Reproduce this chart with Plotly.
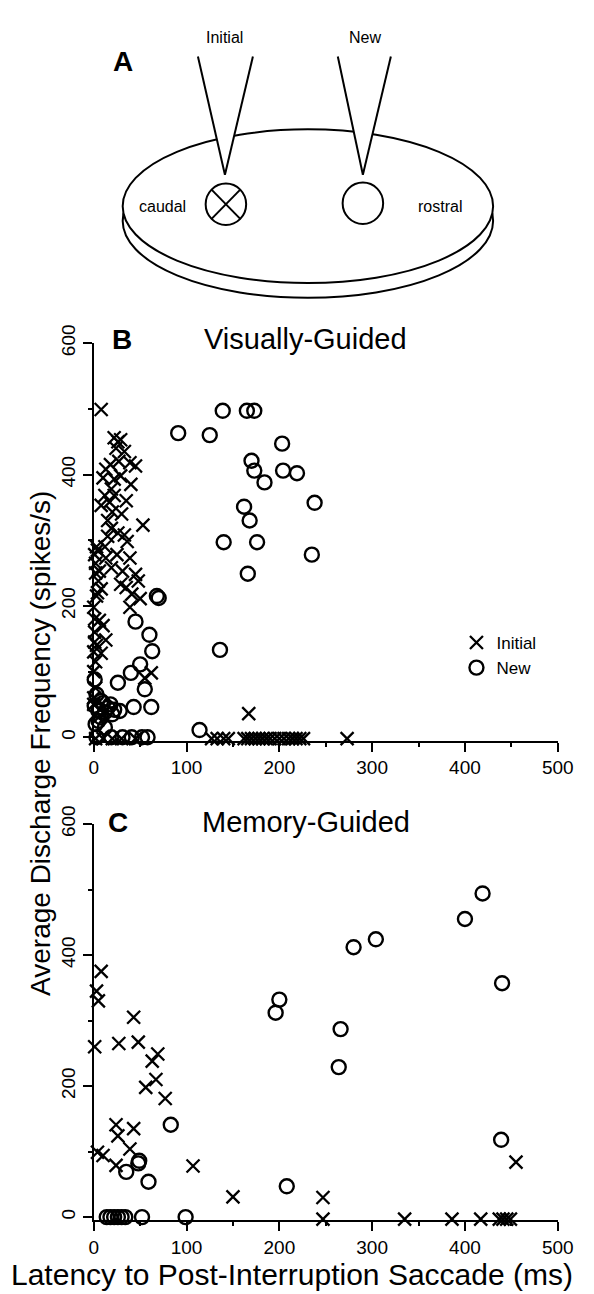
import plotly.graph_objects as go

W, H = 594, 1294
FONT = "Liberation Sans, Arial, Helvetica, sans-serif"

# ---------------- data ----------------
# Panel B (visually-guided): Initial (x) and New (o)
b_init_x = [8, 22, 26, 29, 24, 39, 45, 13, 22, 29, 19, 12, 22, 8, 17, 20, 53, 19, 26, 33, 36, 15,
            1, 13, 25, 39, 6, 19, 31, 45, 5, 29, 48, 8, 41, 50, 39, 0, 6, 10, 13, 8, 1, 0, 62, 55,
            0, 2, 0, 4, 2, 3, 1, 167,
            3, 2, 4, 1, 3, 2, 0, 5, 15, 30, 35, 40, 27, 33, 18, 10, 12, 35,
            2, 10, 20, 30, 45,
            127, 133, 140, 145, 162, 166, 170, 174, 178, 182, 186, 190, 195, 200, 205, 210, 214,
            218, 222, 226, 273]
b_init_y = [499, 456, 450, 453, 440, 418, 413, 408, 393, 398, 378, 368, 368, 353, 358, 343, 323, 318,
            311, 308, 298, 306, 278, 273, 278, 273, 253, 258, 253, 248, 238, 233, 238, 226, 218, 211,
            198, 198, 178, 170, 148, 128, 160, 130, 98, 90, 100, 75, 50, 285, 265, 215, 145, 36,
            290, 250, 220, 180, 140, 115, 60, 30, 330, 340, 360, 385, 420, 435, 415, 395, 290, 228,
            -2, -2, -2, -2, -2,
            -2, -2, -2, -2, -2, -2, -2, -2, -2, -2, -2, -2, -2, -2, -2, -2, -2,
            -2, -2, -2, -2]
b_new_x = [139, 165, 173, 91, 125, 203, 170, 173, 184, 204, 219, 238, 162, 168, 140, 176, 235, 166,
           136, 114,
           70, 68, 45, 60, 63, 50, 40, 55, 26, 1, 43, 62, 1, 5, 10, 15, 8, 20, 5, 12, 28, 3, 8, 18,
           22, 2, 12,
           3, 19, 31, 41, 52, 58]
b_new_y = [497, 497, 497, 463, 460, 447, 421, 406, 388, 406, 402, 357, 351, 330, 297, 297, 278, 249,
           133, 11,
           212, 215, 176, 156, 131, 111, 98, 73, 83, 88, 46, 46, 48, 40, 52, 45, 30, 35, 25, 38, 40,
           65, 55, 50, 42, 20, 15,
           0, 0, 0, 0, 0, 0]

# Panel C (memory-guided)
c_init_x = [8, 3, 5, 43, 1, 27, 48, 69, 63, 67, 56, 77, 24, 43, 26, 39, 4, 10, 24, 107, 150, 247, 455,
            247, 335, 386, 417, 437, 441, 445, 449]
c_init_y = [375, 345, 330, 305, 260, 265, 267, 249, 238, 210, 198, 181, 141, 135, 124, 104, 99, 94, 79,
            78, 31, 30, 84, -3, -3, -3, -3, -3, -3, -3, -3]
c_new_x = [419, 400, 304, 280, 440, 200, 196, 266, 264, 83, 439, 49, 48, 35, 59, 208,
           14, 18, 22, 26, 30, 34, 52, 99]
c_new_y = [494, 455, 424, 412, 357, 332, 312, 287, 229, 141, 118, 86, 82, 69, 54, 47,
           0, 0, 0, 0, 0, 0, 0, 0]

x_ticks = [0, 100, 200, 300, 400, 500]
y_ticks = [0, 200, 400, 600]


def px(x):
    return x / W


def py(y):
    return 1 - y / H


fig = go.Figure()

mk_x = dict(symbol="x-thin", size=13, color="black", line=dict(width=2.3, color="black"))
mk_o = dict(symbol="circle-open", size=14, color="black", line=dict(width=2.4, color="black"))

fig.add_trace(go.Scatter(x=b_init_x, y=b_init_y, mode="markers", marker=mk_x, name="Initial",
                         legendgroup="i", cliponaxis=False, xaxis="x", yaxis="y"))
fig.add_trace(go.Scatter(x=b_new_x, y=b_new_y, mode="markers", marker=mk_o, name="New",
                         legendgroup="n", cliponaxis=False, xaxis="x", yaxis="y"))
fig.add_trace(go.Scatter(x=c_init_x, y=c_init_y, mode="markers", marker=mk_x, showlegend=False,
                         cliponaxis=False, xaxis="x2", yaxis="y2"))
fig.add_trace(go.Scatter(x=c_new_x, y=c_new_y, mode="markers", marker=mk_o, showlegend=False,
                         cliponaxis=False, xaxis="x2", yaxis="y2"))

xdom = [px(92), px(573)]
common_x = dict(range=[0, 500], showline=True, linewidth=2, linecolor="black", ticks="outside",
                ticklen=9, tickwidth=2, tickcolor="black", tickvals=x_ticks, showgrid=False,
                zeroline=False, tickfont=dict(size=19, family=FONT, color="black"),
                minor=dict(dtick=50, ticks="outside", ticklen=4, tickwidth=1.5, tickcolor="black",
                           showgrid=False))
common_y = dict(range=[-5, 600], showline=True, linewidth=2, linecolor="black", ticks="outside",
                ticklen=9, tickwidth=2, tickcolor="black", tickvals=y_ticks, tickangle=-90,
                showgrid=False, zeroline=False, tickfont=dict(size=19, family=FONT, color="black"),
                minor=dict(dtick=100, ticks="outside", ticklen=4, tickwidth=1.5, tickcolor="black",
                           showgrid=False))

fig.update_layout(
    width=W, height=H, margin=dict(l=0, r=0, t=0, b=0),
    paper_bgcolor="white", plot_bgcolor="white",
    font=dict(family=FONT, color="black"),
    xaxis=dict(domain=xdom, anchor="y", **common_x),
    yaxis=dict(domain=[py(732.3), py(329)], anchor="x", **common_y),
    xaxis2=dict(domain=xdom, anchor="y2", **common_x),
    yaxis2=dict(domain=[py(1219.3), py(817)], anchor="x2", **common_y),
    legend=dict(x=px(468), y=py(615), xanchor="left", yanchor="top", traceorder="grouped",
                tracegroupgap=0, font=dict(size=17, family=FONT), bgcolor="rgba(0,0,0,0)",
                itemwidth=30),
)

ann = []


def text(x, y, s, size, bold=False, angle=0, xanchor="center"):
    ann.append(dict(x=px(x), y=py(y), xref="paper", yref="paper", text=("<b>%s</b>" % s) if bold else s,
                    showarrow=False, font=dict(size=size, family=FONT, color="black"),
                    xanchor=xanchor, yanchor="middle", textangle=angle))


text(122, 43, "A", 28, bold=True)
text(228, 19, "Initial", 16)
text(373, 19, "New", 16)
text(163, 190, "caudal", 16)
text(451, 190, "rostral", 16)
text(121, 325, "B", 28, bold=True)
text(204, 325, "Visually-Guided", 29, xanchor="left")
text(117, 815, "C", 28, bold=True)
text(202, 815, "Memory-Guided", 29, xanchor="left")
text(36, 735, "Average Discharge Frequency (spikes/s)", 28, angle=-90)
text(297, 1274, "Latency to Post-Interruption Saccade (ms)", 30)
fig.update_layout(annotations=ann)

shapes = []
LW = 2


def ell(x0, y0, x1, y1, fill="white"):
    shapes.append(dict(type="circle", xref="paper", yref="paper", x0=px(x0), x1=px(x1),
                       y0=py(y1), y1=py(y0), line=dict(color="black", width=LW), fillcolor=fill))


def line(x0, y0, x1, y1):
    shapes.append(dict(type="line", xref="paper", yref="paper", x0=px(x0), y0=py(y0), x1=px(x1),
                       y1=py(y1), line=dict(color="black", width=LW)))


def tri(xa, xb, top, tipx, tipy):
    path = "M %f,%f L %f,%f L %f,%f Z" % (px(xa), py(top), px(tipx), py(tipy), px(xb), py(top))
    shapes.append(dict(type="path", xref="paper", yref="paper", path=path, fillcolor="white",
                       line=dict(width=0, color="white")))
    line(xa, top, tipx, tipy)
    line(xb, top, tipx, tipy)


# disc (lower rim, then top face)
ell(122, 127, 506, 283)
ell(122, 112, 506, 268)
# pipettes
tri(200, 257, 38, 228, 158)
tri(345, 400, 38, 371, 158)
# sites
r = 21
ell(229 - r, 188 - r, 229 + r, 188 + r)
d = r * 0.72
line(229 - d, 188 - d, 229 + d, 188 + d)
line(229 - d, 188 + d, 229 + d, 188 - d)
ell(371 - r, 187 - r, 371 + r, 187 + r)

fig.update_layout(shapes=shapes)

fig.write_html("out.html")
